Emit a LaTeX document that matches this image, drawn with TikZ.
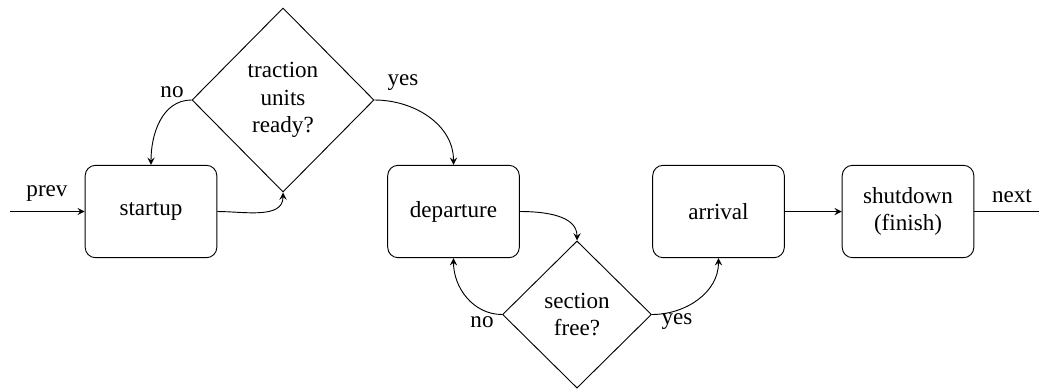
\documentclass[tikz,border=0pt]{standalone}
\usepackage{fontspec}
\setmainfont{Liberation Serif}
\usetikzlibrary{shapes.geometric}
\begin{document}
\begin{tikzpicture}[x=0.433pt,y=-0.433pt,
  box/.style={draw,rounded corners=4.5pt,minimum width=57pt,minimum height=40pt,align=center,inner sep=0pt},
  decision/.style={draw,diamond,inner sep=0pt,align=center},
  lbl/.style={inner sep=0pt},
  arr/.style={-stealth}]
\useasboundingbox (0,0) rectangle (1039,390);
\node[box] (startup) at (151,211.5) {startup};
\node[box] (departure) at (453.5,211.5) {departure};
\node[box] (arrival) at (718.5,211.5) {arrival};
\node[box] (shutdown) at (908,211.5) {shutdown\\(finish)};
\node[decision,minimum width=78.8pt,minimum height=79.7pt] (traction) at (283,100) {traction\\units\\ready?};
\node[decision,minimum width=64.5pt,minimum height=63.7pt] (section) at (577,314.5) {section\\free?};
\coordinate (prevstart) at (10,211.5);
\coordinate (nextend) at (1039,211.5);
\draw[arr] (prevstart) -- (startup);
\draw (shutdown) -- (nextend);
\draw[arr] (arrival) -- (shutdown);
\draw[arr] (startup.east) to[out=0,in=-90] (traction.south);
\draw[arr] (traction.west) to[out=180,in=90] (startup.north);
\draw[arr] (traction.east) to[out=0,in=90] (departure.north);
\draw[arr] (departure.east) to[out=0,in=90] (section.north);
\draw[arr] (section.west) to[out=180,in=-90] (departure.south);
\draw[arr] (section.east) to[out=0,in=-90] (arrival.south);
\node[lbl] (prevl) at (47,194) {prev};
\node[lbl] (nextl) at (1012,196) {next};
\node[lbl] (no1) at (172,92) {no};
\node[lbl] (yes1) at (403,83) {yes};
\node[lbl] (no2) at (482,322) {no};
\node[lbl] (yes2) at (677,322) {yes};
\end{tikzpicture}
\end{document}
